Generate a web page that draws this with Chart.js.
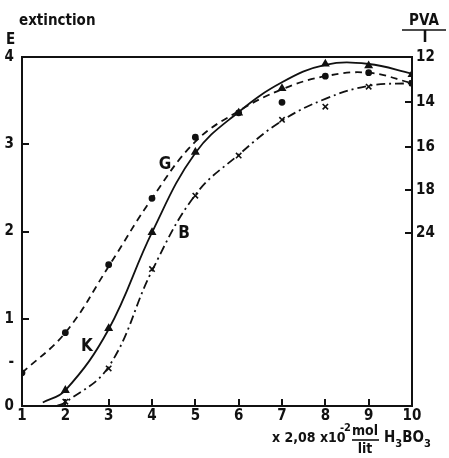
<!DOCTYPE html>
<html>
<head>
<meta charset="utf-8">
<script src="https://cdn.jsdelivr.net/npm/chart.js@4"></script>
<style>
html,body{margin:0;padding:0;background:#fff;}
#wrap{width:449px;height:458px;position:relative;}
</style>
</head>
<body>
<div id="wrap"><canvas id="chart" width="449" height="458"></canvas></div>
<script>
// measured points (x in units of 2.08e-2 mol/lit H3BO3, y = extinction E)
const gX=[1,2,3,4,5,6,7,8,9,10];
const gY=[0.38,0.84,1.62,2.38,3.08,3.36,3.48,3.78,3.82,3.70];
const kX=[2,3,4,5,6,7,8,9,10];
const kY=[0.18,0.89,1.99,2.91,3.36,3.64,3.92,3.90,3.80];
const bX=[2,3,4,5,6,7,8,9,10];
const bY=[0.05,0.43,1.57,2.41,2.87,3.28,3.43,3.66,3.70];

// fitted curves
const gCurveX=[1,2,3,4,5,6,7,8,9,10];
const gCurveY=[0.38,0.84,1.60,2.38,3.03,3.38,3.63,3.78,3.82,3.70];
const kCurveX=[1.48,2,3,4,5,6,7,8,9,10];
const kCurveY=[0.04,0.18,0.88,1.99,2.90,3.37,3.71,3.91,3.92,3.81];
const bCurveX=[1.8,2,3,4,5,6,7,8,9,10];
const bCurveY=[0,0.04,0.45,1.55,2.42,2.88,3.27,3.52,3.67,3.70];

// axis ticks
const xTicks=[1,2,3,4,5,6,7,8,9,10];
const leftTicks=[0,0.5,1,2,3,4];
const leftTickLabels=['0','-','1','2','3','4'];
const rightTicks=[4,3.48,2.97,2.48,1.98];
const rightTickLabels=['12','14','16','18','24'];

const pts=(xs,ys)=>xs.map((v,i)=>({x:v,y:ys[i]}));
const INK='#111';
const FONT='"DejaVu Sans Condensed"';

const curve=(data,dash)=>({type:'line',data,borderColor:INK,borderWidth:1.8,borderDash:dash,
  pointRadius:0,tension:0.4,fill:false,order:2});
const marks=(data,style,r)=>({type:'line',data,showLine:false,pointStyle:style,pointRadius:r,
  pointBackgroundColor:INK,pointBorderColor:INK,pointBorderWidth:1.6,order:1});

// short tick marks pointing into the plot area
function tickMarks(chart){
  const ctx=chart.ctx, a=chart.chartArea, sx=chart.scales.x, sy=chart.scales.y, sr=chart.scales.y2;
  ctx.save();
  ctx.setLineDash([]);
  ctx.strokeStyle=INK;
  ctx.lineWidth=2;
  ctx.beginPath();
  for(const v of xTicks){
    if(v<=1||v>=10) continue;
    const p=Math.round(sx.getPixelForValue(v));
    ctx.moveTo(p,a.bottom);ctx.lineTo(p,a.bottom-7);
  }
  for(const v of leftTicks){
    if(v<1||v>=4) continue;
    const p=Math.round(sy.getPixelForValue(v));
    ctx.moveTo(a.left,p);ctx.lineTo(a.left+7,p);
  }
  for(const v of rightTicks){
    if(v>=4) continue;
    const p=Math.round(sr.getPixelForValue(v));
    ctx.moveTo(a.right,p);ctx.lineTo(a.right-7,p);
  }
  ctx.stroke();
  ctx.restore();
}

const annot={
  id:'annot',
  afterDraw(chart){
    tickMarks(chart);
    const ctx=chart.ctx, a=chart.chartArea;
    ctx.save();
    ctx.setLineDash([]);
    ctx.strokeStyle=INK;ctx.fillStyle=INK;
    const seg=(x1,y1,x2,y2)=>{ctx.beginPath();ctx.moveTo(x1,y1);ctx.lineTo(x2,y2);ctx.stroke();};
    // top frame line
    ctx.lineWidth=2;
    seg(a.left-1,a.top,a.right+1,a.top);

    ctx.textBaseline='middle';
    ctx.textAlign='left';
    ctx.font='bold 15px '+FONT;
    ctx.fillText('extinction',19,21);
    ctx.fillText('E',6,40);
    // right axis title PVA / I
    ctx.textAlign='center';
    ctx.fillText('PVA',424,21);
    ctx.lineWidth=1.6;seg(402,30,446,30);
    ctx.fillText('I',425,38);
    // curve labels
    ctx.font='bold 17px '+FONT;
    ctx.fillText('G',165,165);
    ctx.fillText('B',184,234);
    ctx.fillText('K',87,347);
    // x axis unit
    ctx.textAlign='left';
    ctx.font='bold 14px '+FONT;
    ctx.fillText('x 2,08 x10',272,438);
    ctx.font='bold 11px '+FONT;
    ctx.fillText('-2',340,428);
    ctx.font='bold 14px '+FONT;
    ctx.textAlign='center';
    ctx.fillText('mol',365,431);
    seg(352,440,379,440);
    ctx.fillText('lit',365,449);
    ctx.textAlign='left';
    ctx.font='bold 15px '+FONT;
    ctx.fillText('H',384,438);
    let w=384+ctx.measureText('H').width;
    ctx.font='bold 11px '+FONT;ctx.fillText('3',w,444);w+=ctx.measureText('3').width;
    ctx.font='bold 15px '+FONT;ctx.fillText('BO',w,438);w+=ctx.measureText('BO').width;
    ctx.font='bold 11px '+FONT;ctx.fillText('3',w,444);
    ctx.restore();
  }
};

new Chart(document.getElementById('chart'),{
  data:{datasets:[
    curve(pts(gCurveX,gCurveY),[7,5]),
    curve(pts(kCurveX,kCurveY),[]),
    curve(pts(bCurveX,bCurveY),[9,4,2,4]),
    marks(pts(gX,gY),'circle',2.6),
    marks(pts(kX,kY),'triangle',3.6),
    marks(pts(bX,bY),'crossRot',3.8)
  ]},
  options:{
    responsive:false,animation:false,
    layout:{padding:{top:57,left:0,right:0,bottom:0}},
    plugins:{legend:{display:false},tooltip:{enabled:false}},
    scales:{
      x:{type:'linear',position:'bottom',min:1,max:10,
        afterBuildTicks:s=>{s.ticks=xTicks.map(v=>({value:v}));},
        afterFit:s=>{s.height=52;},
        grid:{display:true,drawOnChartArea:false,drawTicks:false},
        border:{display:true,color:INK,width:2},
        ticks:{color:INK,padding:1,maxRotation:0,autoSkip:false,font:{family:FONT,weight:'bold',size:15}}},
      y:{type:'linear',position:'left',min:0,max:4,
        afterBuildTicks:s=>{s.ticks=leftTicks.map(v=>({value:v}));},
        afterFit:s=>{s.width=22;},
        grid:{display:true,drawOnChartArea:false,drawTicks:false},
        border:{display:true,color:INK,width:2},
        ticks:{color:INK,padding:8,autoSkip:false,font:{family:FONT,weight:'bold',size:15},
          callback:v=>leftTickLabels[leftTicks.indexOf(v)]}},
      y2:{type:'linear',position:'right',min:0,max:4,
        afterBuildTicks:s=>{s.ticks=rightTicks.map(v=>({value:v}));},
        afterFit:s=>{s.width=37;},
        grid:{display:true,drawOnChartArea:false,drawTicks:false},
        border:{display:true,color:INK,width:2},
        ticks:{color:INK,padding:4,autoSkip:false,font:{family:FONT,weight:'bold',size:15},
          callback:v=>rightTickLabels[rightTicks.indexOf(v)]}}
    }
  },
  plugins:[annot]
});
</script>
</body>
</html>
